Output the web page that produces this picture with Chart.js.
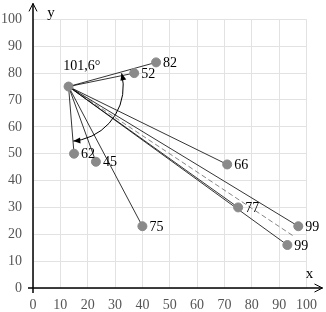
<!DOCTYPE html>
<html>
<head>
<meta charset="utf-8">
<script src="https://cdn.jsdelivr.net/npm/chart.js@4"></script>
<style>
  html, body { margin: 0; padding: 0; background: #fff; }
  #wrap { width: 326px; height: 312px; }
</style>
</head>
<body>
<div id="wrap"><canvas id="chart"></canvas></div>
<script>
// data
const CENTER = { x: 13, y: 75 };
const POINT_LABELS = ['82', '52', '62', '45', '75', '66', '77', '99', '99'];
const POINT_X = [45, 37, 15, 23, 40, 71, 75, 97, 93];
const POINT_Y = [84, 80, 50, 47, 23, 46, 30, 23, 16];
const MEAN_END = { x: 95, y: 19.5 };
const X_TICKS = [0, 10, 20, 30, 40, 50, 60, 70, 80, 90, 100];
const Y_TICKS = [0, 10, 20, 30, 40, 50, 60, 70, 80, 90, 100];
const ANGLE_TEXT = '101,6°';
const ANGLE_TEXT_AT = { x: 17.8, y: 82.7 };
const ARC_RADIUS = 20;      // in x units
const ARC_FROM = 14;        // degrees above horizontal
const ARC_TO = -85;         // degrees (below horizontal)

const SERIF = '"Liberation Serif", "DejaVu Serif", serif';
const POINT_GREY = '#8a8a8a';

const points = POINT_X.map((x, i) => ({ x, y: POINT_Y[i] }));

const datasets = points.map(p => ({
  type: 'line',
  data: [CENTER, p],
  borderColor: '#000',
  borderWidth: 0.8,
  pointRadius: 0,
  fill: false,
  order: 2,
}));

datasets.push({
  type: 'line',
  data: [CENTER, MEAN_END],
  borderColor: '#666',
  borderWidth: 0.8,
  borderDash: [5, 3],
  pointRadius: 0,
  fill: false,
  order: 2,
});

datasets.push({
  type: 'scatter',
  data: [CENTER, ...points],
  backgroundColor: POINT_GREY,
  borderColor: POINT_GREY,
  pointRadius: 4.5,
  order: 1,
});

function arrowHead(ctx, x, y, dx, dy, len, half) {
  const n = Math.hypot(dx, dy);
  const ux = dx / n, uy = dy / n;
  ctx.beginPath();
  ctx.moveTo(x, y);
  ctx.lineTo(x - ux * len - uy * half, y - uy * len + ux * half);
  ctx.lineTo(x - ux * len + uy * half, y - uy * len - ux * half);
  ctx.closePath();
  ctx.fill();
}

const extras = {
  id: 'extras',
  afterDatasetsDraw(chart) {
    const { ctx, scales: { x: xs, y: ys } } = chart;
    ctx.save();

    // axes with arrows
    const x0 = xs.getPixelForValue(0);
    const y0 = ys.getPixelForValue(0);
    const xEnd = xs.right + 16;
    const yEnd = ys.top - 16;
    ctx.strokeStyle = '#000';
    ctx.lineWidth = 1.5;
    ctx.beginPath();
    ctx.moveTo(x0 - 5, y0); ctx.lineTo(xEnd, y0);
    ctx.moveTo(x0, y0 + 5); ctx.lineTo(x0, yEnd);
    ctx.stroke();
    ctx.lineWidth = 1;
    ctx.beginPath();
    ctx.moveTo(xEnd - 8, y0 - 4); ctx.lineTo(xEnd, y0); ctx.lineTo(xEnd - 8, y0 + 4);
    ctx.moveTo(x0 - 4, yEnd + 8); ctx.lineTo(x0, yEnd); ctx.lineTo(x0 + 4, yEnd + 8);
    ctx.stroke();

    // axis names
    ctx.fillStyle = '#000';
    ctx.font = '15px ' + SERIF;
    ctx.textAlign = 'center';
    ctx.textBaseline = 'middle';
    ctx.fillText('x', xs.right + 3, y0 - 14);
    ctx.fillText('y', x0 + 18, yEnd + 10);

    // point labels
    ctx.font = '14px ' + SERIF;
    ctx.textAlign = 'left';
    points.forEach((p, i) => {
      ctx.fillText(POINT_LABELS[i], xs.getPixelForValue(p.x) + 7, ys.getPixelForValue(p.y) + 1);
    });

    // angle arc with arrowheads
    const cx = xs.getPixelForValue(CENTER.x);
    const cy = ys.getPixelForValue(CENTER.y);
    const r = xs.getPixelForValue(ARC_RADIUS) - xs.getPixelForValue(0);
    const a1 = -ARC_FROM * Math.PI / 180;
    const a2 = -ARC_TO * Math.PI / 180;
    ctx.strokeStyle = '#000';
    ctx.lineWidth = 1;
    ctx.beginPath();
    ctx.arc(cx, cy, r, a1, a2, false);
    ctx.stroke();
    ctx.fillStyle = '#000';
    arrowHead(ctx, cx + r * Math.cos(a1), cy + r * Math.sin(a1), Math.sin(a1), -Math.cos(a1), 7, 3);
    arrowHead(ctx, cx + r * Math.cos(a2), cy + r * Math.sin(a2), -Math.sin(a2), Math.cos(a2), 7, 3);

    ctx.textAlign = 'center';
    ctx.fillText(ANGLE_TEXT, xs.getPixelForValue(ANGLE_TEXT_AT.x), ys.getPixelForValue(ANGLE_TEXT_AT.y));

    ctx.restore();
  },
};

new Chart(document.getElementById('chart'), {
  data: { datasets },
  options: {
    responsive: true,
    maintainAspectRatio: false,
    animation: false,
    events: [],
    layout: { padding: { top: 17, right: 18, left: 0, bottom: 0 } },
    plugins: { legend: { display: false }, tooltip: { enabled: false } },
    scales: {
      x: {
        type: 'linear',
        min: 0,
        max: 100,
        afterBuildTicks: s => { s.ticks = X_TICKS.map(v => ({ value: v })); },
        afterFit: s => { s.height = 24; },
        ticks: { color: '#555', font: { family: SERIF, size: 14 }, padding: 9, maxRotation: 0 },
        grid: { color: '#e2e2e2', drawTicks: false },
        border: { display: false },
      },
      y: {
        type: 'linear',
        min: 0,
        max: 100,
        afterBuildTicks: s => { s.ticks = Y_TICKS.map(v => ({ value: v })); },
        afterFit: s => { s.width = 33; },
        ticks: { color: '#555', font: { family: SERIF, size: 14 }, padding: 11 },
        grid: { color: '#e2e2e2', drawTicks: false },
        border: { display: false },
      },
    },
  },
  plugins: [extras],
});
</script>
</body>
</html>
